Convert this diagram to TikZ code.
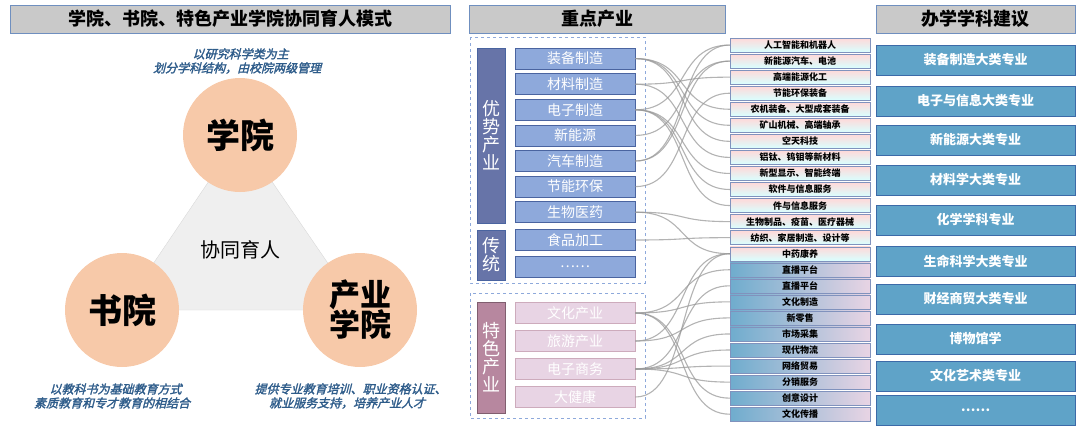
\documentclass[tikz,border=0pt]{standalone}
\usepackage{fontspec}
\setmainfont{Noto Sans CJK SC}
\newfontfamily\slantfont[FakeBold=2]{Noto Sans CJK SC}
\newcommand{\fs}[1]{\fontsize{#1}{#1}\selectfont}
\usetikzlibrary{positioning,shadings}
\definecolor{hdrgray}{HTML}{C9C9C9}
\definecolor{hdrline}{HTML}{6F8FBF}
\definecolor{peach}{HTML}{F7C9A9}
\definecolor{tri}{HTML}{EFEFEF}
\definecolor{noteblue}{HTML}{2E5C8A}
\definecolor{indbox}{HTML}{8EA9DB}
\definecolor{indline}{HTML}{4A64A0}
\definecolor{barblue}{HTML}{6774A8}
\definecolor{pinkbox}{HTML}{E8D4E4}
\definecolor{barpink}{HTML}{B7879F}
\definecolor{subjblue}{HTML}{5FA3C8}
\definecolor{subjline}{HTML}{3C6AA8}
\tikzset{
  hdr/.style={draw=hdrline,fill=hdrgray,line width=1pt,minimum height=28pt,font=\fs{18}\bfseries},
  circ/.style={circle,fill=peach,minimum size=114pt,font=\fs{34}\bfseries,align=center},
  note/.style={text=noteblue,font=\fs{12}\slantfont,align=center,xslant=0.25,transform shape},
  indu/.style={draw=indline,fill=indbox,line width=0.8pt,minimum width=120pt,minimum height=21pt,text=white,font=\fs{14}},
  spec/.style={draw=barpink!70,fill=pinkbox,line width=0.8pt,minimum width=120pt,minimum height=21pt,text=white,font=\fs{14}},
  bar/.style={fill=barblue,draw=indline,minimum width=28pt,text=white,font=\fs{18},align=center},
  grp/.style={draw=indbox,dashed,line width=1pt},
  keyA/.style={draw=indline!70,top color=pink!60,bottom color=cyan!15,minimum width=140pt,minimum height=14pt,inner sep=0pt,font=\fs{9}\bfseries},
  keyB/.style={draw=indline!70,left color=subjblue!90,right color=pinkbox,minimum width=140pt,minimum height=14pt,inner sep=0pt,font=\fs{9}\bfseries},
  subj/.style={draw=subjline,fill=subjblue,line width=1pt,minimum width=199pt,minimum height=30pt,text=white,font=\fs{13}\bfseries},
  link/.style={draw=gray!80,line width=1.1pt,opacity=0.75}
}
\begin{document}
\begin{tikzpicture}[x=1pt,y=-1pt]
  \useasboundingbox (0,0) rectangle (1080,429);
  % left part
  \node(t1)[hdr,minimum width=440pt] at (230,19) {学院、书院、特色产业学院协同育人模式};
  \fill[tri,draw=gray!30] (240,135) -- (122,310) -- (360,310) -- cycle;
  \node(xy)[circ] at (240,135) {学院};
  \node(sy)[circ] at (122,310) {书院};
  \node(cy)[circ,font=\fs{31}\bfseries] at (360,310) {产业\\[-1pt]学院};
  \node(xt)[font=\fs{20}] at (240,250) {协同育人};
  \node(n1)[note] at (240,61) {以研究科学类为主\\[2pt]划分学科结构，由校院两级管理};
  \node(n2)[note] at (115,396) {以教科书为基础教育方式\\[2pt]素质教育和专才教育的相结合};
  \node(n3)[note] at (350,396) {提供专业教育培训、职业资格认证、\\[2pt]就业服务支持，培养产业人才};

  % middle part
  \node(t2)[hdr,minimum width=256pt] at (597,19) {重点产业};
  \draw[grp] (470,37) rectangle (645,283);
  \draw[grp] (470,293) rectangle (645,418);
  \node(b1)[bar,minimum height=175pt] at (491,135.5) {优\\势\\产\\业};
  \node(b2)[bar,minimum height=50pt] at (491,255) {传\\统};
  \node(b3)[bar,fill=barpink,draw=barpink!70!black,minimum height=111pt] at (491,357.5) {特\\色\\产\\业};
  \foreach \t [count=\i] in {装备制造,材料制造,电子制造,新能源,汽车制造,节能环保,生物医药}
    \node(i\i)[indu] at ({575},{33+25.6*\i}) {\t};
  \node(i8)[indu] at (575,240) {食品加工};
  \node(i9)[indu] at (575,267) {……};
  \foreach \t [count=\i from 10] in {文化产业,旅游产业,电子商务,大健康}
    \node(i\i)[spec] at ({575},{285+28*(\i-9)}) {\t};

  \foreach \t [count=\i] in {人工智能和机器人,新能源汽车、电池,高端能源化工,节能环保装备,农机装备、大型成套装备,矿山机械、高端轴承,空天科技,铝钛、钨钼等新材料,新型显示、智能终端,软件与信息服务,件与信息服务,生物制品、疫苗、医疗器械,纺织、家居制造、设计等,中药康养}
    \node(k\i)[keyA] at ({800},{29+16.05*\i}) {\t};
  \foreach \t [count=\i from 15] in {直播平台,直播平台,文化制造,新零售,市场采集,现代物流,网络贸易,分销服务,创意设计,文化传播}
    \node(k\i)[keyB] at ({800},{29+16.05*\i}) {\t};

  \foreach \a/\b in {1/5,1/6,1/7,2/3,2/8,3/1,3/9,3/10,3/11,4/2,5/1,5/2,6/4,7/12,7/14,8/13,
                     10/15,10/17,10/23,10/24,11/14,11/18,12/16,12/19,12/20,12/21,12/22,13/14}
    \draw[link] (i\a.east) .. controls +(55,0) and +(-55,0) .. (k\b.west);

  % right part
  \node(t3)[hdr,minimum width=199pt] at (975.5,19) {办学学科建议};
  \foreach \t/\y [count=\i] in {装备制造大类专业/60,电子与信息大类专业/101,新能源大类专业/140,材料学大类专业/180,化学学科专业/220,生命科学大类专业/261,财经商贸大类专业/299,博物馆学/339,文化艺术类专业/376,……/410}
    \node(s\i)[subj] at (975.5,\y) {\t};
\end{tikzpicture}
\end{document}
